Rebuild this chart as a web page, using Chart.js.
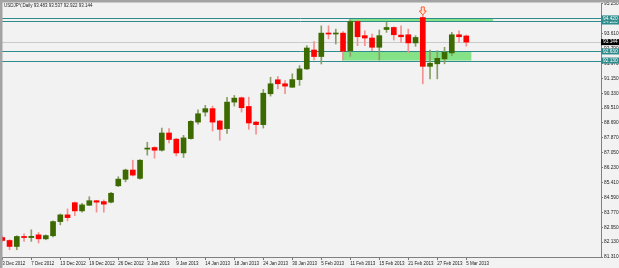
<!DOCTYPE html>
<html><head><meta charset="utf-8">
<script src="https://cdn.jsdelivr.net/npm/chart.js@4/dist/chart.umd.min.js"></script>
<style>html,body{margin:0;padding:0;background:#F1F2F1;}#wrap{width:619px;height:268px;position:relative;}</style>
</head><body><div id="wrap"><canvas id="c" width="619" height="268"></canvas></div>
<script>
const headerText = 'USDJPY,Daily 93.483 93.537 92.922 93.144';
const xTickLabels = ['3 Dec 2012','7 Dec 2012','13 Dec 2012','19 Dec 2012','26 Dec 2012','3 Jan 2013','9 Jan 2013','14 Jan 2013','18 Jan 2013','24 Jan 2013','30 Jan 2013','5 Feb 2013','11 Feb 2013','15 Feb 2013','21 Feb 2013','27 Feb 2013','5 Mar 2013'];
const barsPerTick = 4;
const opens  = [82.38,82.22,81.89,82.44,82.38,82.53,82.31,82.48,83.26,83.63,84.30,83.85,84.16,84.41,84.36,84.33,85.23,85.59,86.10,85.64,87.25,87.34,87.19,88.14,87.80,87.04,87.83,88.74,89.29,89.48,88.80,88.38,89.84,90.08,89.60,88.74,88.60,90.30,91.07,90.85,90.66,91.08,91.67,92.71,92.35,93.64,93.59,93.64,92.67,94.28,93.50,93.37,92.86,93.84,93.95,93.53,93.55,93.10,94.50,91.81,91.95,92.22,92.55,93.55,93.483];
const highs  = [82.48,82.26,82.48,82.59,82.81,82.66,82.53,83.30,83.68,83.96,84.34,84.27,84.63,84.42,84.45,84.87,85.73,86.15,86.64,86.67,87.63,87.38,88.41,88.38,87.85,88.01,88.81,89.42,89.66,89.62,88.84,90.11,90.21,90.12,90.11,88.78,90.54,91.21,91.25,91.03,91.40,91.85,92.95,93.18,94.04,94.04,93.86,93.72,94.37,94.35,93.77,93.59,93.81,94.23,93.99,94.04,93.86,93.50,94.69,92.71,92.67,92.86,93.68,93.77,93.537];
const lows   = [82.15,81.71,81.71,82.17,82.17,82.08,82.26,82.42,83.08,83.30,83.59,83.78,84.15,83.78,83.78,84.29,85.19,85.45,85.77,85.60,86.92,86.75,87.14,87.59,86.88,86.79,87.80,88.62,89.07,88.25,87.74,88.11,89.62,89.29,88.34,88.07,88.41,90.17,90.57,90.30,90.65,90.76,91.63,92.16,91.94,93.32,93.04,92.16,92.36,92.95,92.95,92.67,92.16,93.68,93.26,93.13,92.58,92.91,90.85,91.12,91.12,91.95,92.40,93.13,92.922];
const closes = [82.22,81.89,82.44,82.38,82.45,82.31,82.49,83.26,83.63,83.48,83.85,84.18,84.41,84.33,84.22,84.82,85.60,86.10,85.82,86.64,87.31,87.19,88.14,87.78,87.04,87.87,88.78,89.20,89.48,88.74,88.34,89.84,90.06,89.53,88.69,88.60,90.33,90.85,90.85,90.72,91.08,91.67,92.82,92.35,93.64,93.59,93.64,92.64,94.28,93.44,93.37,92.86,93.50,93.95,93.55,93.44,93.10,93.40,91.81,91.98,92.25,92.58,93.55,93.44,93.144];
const yTicks = [81.31,82.13,82.95,83.77,84.59,85.41,86.23,87.05,87.87,88.69,89.51,90.33,91.15,91.97,92.79,93.61,94.43,95.25];
const levelLines  = [94.28,94.45,92.63,92.13];
const levelLabels = ['94.280','94.420','92.630','92.130'];
const lastPrice = 93.144;
const zoneStartBar = [47.8,46.9];
const zoneEndBar   = [67.7,64.7];
const zoneHigh = [94.45,92.63];
const zoneLow  = [94.28,92.13];
const arrowBar = 58;
const arrowPrice = 94.86;

const UP='#3D6A00', DN='#FF0000', UPW='#8A9F66', DNW='#F39090';
const idx = opens.map((_,i)=>i);
const isUp = idx.map(i=>closes[i]>=opens[i]);
const bodies = idx.map(i=>({x:i,y:[opens[i],closes[i]]}));
const wicks  = idx.map(i=>({x:i,y:[lows[i],highs[i]]}));
const FONT='Liberation Sans';

const decor = {
  id:'decor',
  beforeDraw(chart){
    const c=chart.ctx; c.save(); c.fillStyle='#F1F2F1'; c.fillRect(0,0,chart.width,chart.height); c.restore();
  },
  beforeDatasetsDraw(chart){
    const c=chart.ctx, xs=chart.scales.x, ys=chart.scales.y, a=chart.chartArea;
    c.save();
    c.beginPath(); c.rect(a.left,a.top,a.right-a.left,a.bottom-a.top); c.clip();
    // last price line
    c.strokeStyle='#C9CBC9'; c.lineWidth=1;
    let yp=Math.round(ys.getPixelForValue(lastPrice))+0.5;
    c.beginPath(); c.moveTo(a.left,yp); c.lineTo(a.right,yp); c.stroke();
    // zones
    c.fillStyle='#86E286';
    for(let k=0;k<zoneStartBar.length;k++){
      const x1=xs.getPixelForValue(zoneStartBar[k]), x2=xs.getPixelForValue(zoneEndBar[k]);
      const y1=ys.getPixelForValue(zoneHigh[k]), y2=ys.getPixelForValue(zoneLow[k]);
      c.fillRect(x1,y1,x2-x1,y2-y1);
    }
    // level lines
    c.strokeStyle='#2E8C8C'; c.lineWidth=1;
    levelLines.forEach(v=>{const y=Math.round(ys.getPixelForValue(v))+0.5; c.beginPath(); c.moveTo(a.left,y); c.lineTo(a.right,y); c.stroke();});
    c.restore();
  },
  afterDraw(chart){
    const c=chart.ctx, xs=chart.scales.x, ys=chart.scales.y, a=chart.chartArea;
    c.save();
    c.font='4.8px "'+FONT+'"'; c.textBaseline='middle'; c.textAlign='left';
    // level label boxes
    levelLines.forEach((v,k)=>{
      const y=ys.getPixelForValue(v);
      c.fillStyle='#2E8C8C'; c.fillRect(a.right,y-3,619-a.right,6);
      c.fillStyle='#FFFFFF'; c.fillText(levelLabels[k],a.right+2,y);
    });
    const yl=ys.getPixelForValue(lastPrice);
    c.fillStyle='#000000'; c.fillRect(a.right,yl-3,619-a.right,6);
    c.fillStyle='#FFFFFF'; c.fillText(lastPrice.toFixed(3),a.right+2,yl);
    // arrow
    const ax=xs.getPixelForValue(arrowBar), ay=ys.getPixelForValue(arrowPrice);
    c.beginPath();
    c.moveTo(ax-1.5,ay-4); c.lineTo(ax+1.5,ay-4); c.lineTo(ax+1.5,ay); c.lineTo(ax+3.5,ay);
    c.lineTo(ax,ay+4); c.lineTo(ax-3.5,ay); c.lineTo(ax-1.5,ay); c.closePath();
    c.fillStyle='#FFE6DC'; c.fill(); c.strokeStyle='#FF5A2A'; c.lineWidth=1; c.stroke();
    // header
    c.fillStyle='#222222'; c.font='4.5px "'+FONT+'"';
    c.fillText(headerText,4,6);
    // frame borders
    c.fillStyle='#A3A3A3'; c.fillRect(0,0,chart.width,2.5); c.fillRect(0,0,2.5,chart.height);
    c.restore();
  }
};

new Chart(document.getElementById('c'),{
  type:'bar',
  data:{datasets:[
    {data:bodies,backgroundColor:idx.map(i=>isUp[i]?UP:DN),barThickness:5,grouped:false,minBarLength:1,borderWidth:0,order:0},
    {data:wicks,backgroundColor:idx.map(i=>isUp[i]?UPW:DNW),barThickness:1,grouped:false,borderWidth:0,order:1}
  ]},
  options:{
    responsive:false,animation:false,
    layout:{padding:{top:3,left:0,right:0,bottom:0}},
    plugins:{legend:{display:false},tooltip:{enabled:false},title:{display:false}},
    scales:{
      x:{type:'linear',min:-0.317,max:82.58,offset:false,
        afterBuildTicks:s=>{s.ticks=xTickLabels.map((_,k)=>({value:k*barsPerTick}));},
        ticks:{autoSkip:false,maxRotation:0,minRotation:0,align:'start',padding:1,color:'#222',font:{size:4.5,family:FONT},
          callback:v=>xTickLabels[Math.round(v/barsPerTick)]},
        grid:{drawOnChartArea:false,drawTicks:true,tickLength:3,color:'#777',offset:false},
        border:{display:true,color:'#808080',width:1},
        afterFit:s=>{s.height=11;}
      },
      y:{position:'right',min:yTicks[0],max:yTicks[yTicks.length-1],
        afterBuildTicks:s=>{s.ticks=yTicks.map(v=>({value:v}));},
        ticks:{color:'#222',padding:1,font:{size:4.8,family:FONT},callback:v=>v.toFixed(3)},
        grid:{drawOnChartArea:false,tickLength:2,color:'#777'},
        border:{display:true,color:'#808080',width:1},
        afterFit:s=>{s.width=18;}
      }
    }
  },
  plugins:[decor]
});
</script></body></html>
